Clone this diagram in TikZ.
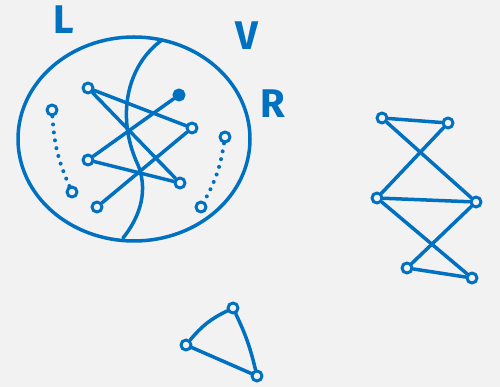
\documentclass[tikz,border=0pt]{standalone}
\usepackage{fontspec}
\setsansfont{Fira Sans}
\definecolor{ink}{RGB}{0,112,192}
\definecolor{paper}{RGB}{242,242,242}

\begin{document}
\begin{tikzpicture}[x=1pt,y=-1pt,color=ink,line width=3.5pt,line cap=round,line join=round,
  vtx/.style={circle,draw,line width=3pt,inner sep=0pt,minimum size=10pt},
  vtxfull/.style={vtx,fill},
  lbl/.style={font=\sffamily\bfseries\fontsize{40}{40}\selectfont},
  dots/.style={line width=4pt,dash pattern=on 0pt off 8pt}]
\fill[paper] (0,0) rectangle (500,387);
\useasboundingbox (0,0) rectangle (500,387);
% labels
\node[lbl] (lL) at (64,20) {L};
\node[lbl] (lV) at (247,36) {V};
\node[lbl] (lR) at (273,104) {R};
% the set V, cut in L and R
\draw (134,139) ellipse [x radius=116pt,y radius=102pt];
\draw (162,40) .. controls (126,66) and (116,118) .. (138,165)
  .. controls (150,195) and (136,222) .. (123,238);
% vertices inside
\node[vtx] (a) at (88,88) {};
\node[vtxfull] (b) at (179,95) {};
\node[vtx] (c) at (192,128) {};
\node[vtx] (d) at (88,160) {};
\node[vtx] (e) at (180,183) {};
\node[vtx] (f) at (97,207) {};
\node[vtx] (g) at (52,110) {};
\node[vtx] (h) at (72,192) {};
\node[vtx] (i) at (225,137) {};
\node[vtx] (j) at (201,207) {};
\draw (a) -- (c); \draw (a) -- (e); \draw (b) -- (d);
\draw (d) -- (e); \draw (c) -- (f);
\draw[dots] (g) to[bend right=10] (h);
\draw[dots] (i) to[bend left=10] (j);
% zigzag on the right
\node[vtx] (p1) at (382,118) {};
\node[vtx] (p2) at (448,123) {};
\node[vtx] (p3) at (377,198) {};
\node[vtx] (p4) at (476,202) {};
\node[vtx] (p5) at (407,268) {};
\node[vtx] (p6) at (472,278) {};
\draw (p1) -- (p2); \draw (p1) -- (p4); \draw (p2) -- (p3);
\draw (p3) -- (p4); \draw (p3) -- (p6); \draw (p4) -- (p5);
\draw (p5) -- (p6);
% triangle
\node[vtx] (t1) at (233,308) {};
\node[vtx] (t2) at (186,345) {};
\node[vtx] (t3) at (257,376) {};
\draw (t2) to[bend left=12] (t1);
\draw (t1) to[bend left=6] (t3);
\draw (t2) -- (t3);
\end{tikzpicture}
\end{document}
